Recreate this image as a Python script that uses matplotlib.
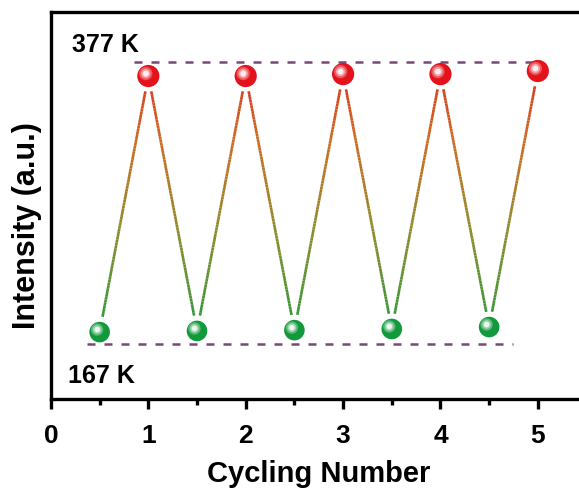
import numpy as np
import matplotlib
matplotlib.use("Agg")
import matplotlib.pyplot as plt
from matplotlib.collections import LineCollection
from matplotlib.colors import to_rgb, LinearSegmentedColormap
from matplotlib.transforms import ScaledTranslation

plt.rcParams['font.family'] = ['Liberation Sans', 'DejaVu Sans']
plt.rcParams['font.weight'] = 'bold'

# cycling data: heating (377 K) and cooling (167 K) steps
cycle = [0.5, 1.0, 1.5, 2.0, 2.5, 3.0, 3.5, 4.0, 4.5, 5.0]
intensity = [0.173, 0.835, 0.176, 0.835, 0.178, 0.840, 0.181, 0.840, 0.186, 0.848]
high_level = 0.871
low_level = 0.142
high_span = [0.85, 5.0]
low_span = [0.37, 4.75]

red = '#e3121b'
green = '#12993c'

# red -> orange -> olive -> green along the connecting lines
grad = LinearSegmentedColormap.from_list(
    'heat', [(0.0, '#1a9a3a'), (0.4, '#8c8a2a'), (0.72, '#cc6a1e'), (1.0, '#d82a1c')])

fig = plt.figure(figsize=(5.79, 4.89), dpi=100)
ax = fig.add_axes([0.088, 0.182, 0.925, 0.791])
ax.set_xlim(0, 5.5)
ax.set_ylim(0, 1)

x = np.array(cycle)
y = np.array(intensity)
segs, cols = [], []
for i in range(len(x) - 1):
    t = np.linspace(0.06, 0.94, 80)
    xs = x[i] + (x[i + 1] - x[i]) * t
    ys = y[i] + (y[i + 1] - y[i]) * t
    for j in range(len(t) - 1):
        segs.append([(xs[j], ys[j]), (xs[j + 1], ys[j + 1])])
        ym = 0.5 * (ys[j] + ys[j + 1])
        f = np.clip((ym - low_level) / (high_level - low_level), 0, 1)
        cols.append(grad(f))
ax.add_collection(LineCollection(segs, colors=cols, linewidths=1.9, zorder=2))

# dashed reference levels
dash = (0, (3.2, 3.6))
ax.plot(high_span, [high_level] * 2, ls=dash, color='#7a4878', lw=1.8, zorder=1)
ax.plot(low_span, [low_level] * 2, ls=dash, color='#7a4878', lw=1.8, zorder=1)

# shaded spheres
def spheres(xv, yv, base, size):
    ax.scatter(xv, yv, s=size, color=base, edgecolors='none', zorder=3)
    shift = ScaledTranslation(-1.8 / 72, 1.8 / 72, fig.dpi_scale_trans)
    cb = np.array(to_rgb(base))
    for k, (scale, mix) in enumerate([(0.36, 0.3), (0.18, 0.6), (0.07, 0.92)]):
        col = cb * (1 - mix) + np.ones(3) * mix
        ax.scatter(xv, yv, s=size * scale, color=col, edgecolors='none',
                   zorder=4 + k, transform=ax.transData + shift)

spheres(x[1::2], y[1::2], red, 255)
spheres(x[0::2], y[0::2], green, 220)

ax.text(0.22, 0.9, '377 K', fontsize=18, fontweight='bold', va='baseline')
ax.text(0.175, 0.044, '167 K', fontsize=18, fontweight='bold', va='baseline')

ax.set_xticks([0, 1, 2, 3, 4, 5])
ax.set_xticks([0.5, 1.5, 2.5, 3.5, 4.5], minor=True)
ax.set_yticks([])
ax.tick_params(axis='x', which='major', direction='out', length=7, width=2.4,
               labelsize=19, pad=10)
ax.tick_params(axis='x', which='minor', direction='out', length=4.5, width=2.4)
for lab in ax.get_xticklabels():
    lab.set_fontweight('bold')
for sp in ax.spines.values():
    sp.set_linewidth(2.4)

ax.set_xlabel('Cycling Number', fontsize=21, fontweight='bold', labelpad=9)
ax.set_ylabel('Intensity (a.u.)', fontsize=22, fontweight='bold')
ax.yaxis.set_label_coords(-0.017, 0.45)

fig.savefig('out.png', dpi=100)
